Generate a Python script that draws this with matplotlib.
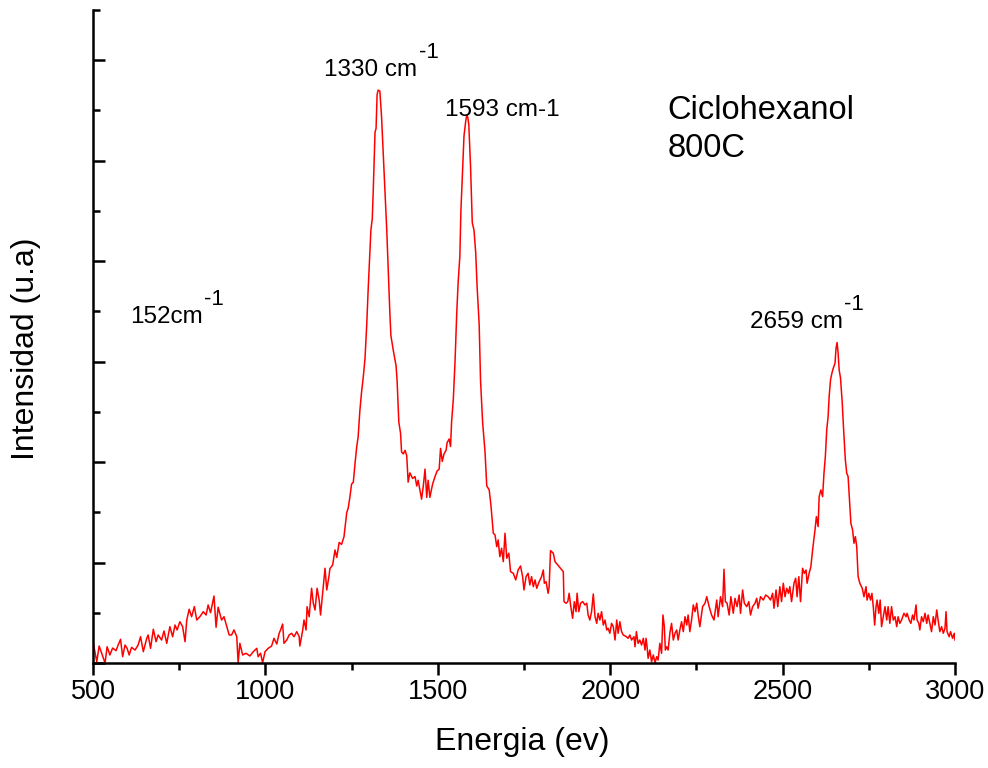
# Raman spectrum - Ciclohexanol 800C

import matplotlib
matplotlib.use('Agg')
import matplotlib.pyplot as plt
from matplotlib.ticker import MultipleLocator, NullFormatter

plt.rcParams['font.family'] = ['Liberation Sans', 'DejaVu Sans']

# wavenumber (cm-1) and intensity (u.a.)
wavenumber = [
    501, 511, 518, 525, 535, 541, 549, 557, 567, 573, 580, 586, 593, 599, 605, 612,
    622, 631, 638, 646, 656, 660, 667, 675, 683, 689, 699, 706, 714, 723, 731, 738,
    744, 752, 760, 767, 772, 779, 786, 794, 801, 810, 820, 828, 834, 841, 851, 857,
    863, 873, 880, 888, 895, 902, 909, 917, 921, 926, 934, 944, 955, 965, 975, 979,
    986, 992, 999, 1008, 1018, 1025, 1033, 1040, 1044, 1050, 1054, 1062, 1069, 1076,
    1083, 1091, 1098, 1100, 1108, 1112, 1118, 1121, 1127, 1134, 1139, 1144, 1150,
    1156, 1160, 1166, 1173, 1178, 1185,
    1187, 1195, 1202, 1207, 1214, 1221, 1228, 1236, 1240, 1245, 1250, 1255, 1260,
    1265, 1269, 1274, 1279, 1284, 1289, 1294, 1298, 1303, 1306, 1310, 1313, 1318,
    1321, 1324, 1327, 1332, 1337, 1342, 1347, 1352, 1356, 1361, 1364, 1371, 1379,
    1382, 1387, 1392, 1395, 1400, 1405, 1410, 1414, 1419, 1427, 1434, 1439, 1443,
    1448, 1453, 1458, 1463, 1468, 1472, 1477, 1485, 1492, 1498, 1504, 1508, 1513,
    1518, 1524, 1527, 1533, 1537, 1540, 1545, 1550, 1555, 1559, 1564, 1567, 1572,
    1576, 1581, 1584, 1587, 1590, 1595, 1600, 1605, 1610, 1614, 1620, 1624, 1630,
    1637, 1642, 1649, 1654,
    1661, 1666, 1671, 1675, 1680, 1685, 1690, 1695, 1700, 1706, 1711, 1719, 1726,
    1733, 1740, 1746, 1750, 1756, 1762, 1767, 1772, 1777, 1782, 1787, 1794, 1801,
    1806, 1809, 1814, 1820, 1823, 1827, 1835, 1840, 1864, 1866, 1872, 1877, 1881,
    1885, 1891, 1896, 1901, 1904, 1909, 1914, 1920, 1927, 1932, 1936, 1941, 1946,
    1951, 1956, 1961, 1965, 1970, 1975, 1980, 1985, 1990, 1994, 1999, 2004, 2009,
    2014, 2019, 2023, 2028, 2033, 2038, 2047, 2052, 2057, 2062, 2069, 2072, 2076,
    2081, 2086, 2091, 2096, 2101, 2104, 2107, 2110, 2115, 2120, 2125, 2130, 2135,
    2139, 2144, 2149, 2153, 2157, 2160, 2164, 2168, 2173, 2178, 2183, 2188, 2193,
    2197, 2202, 2207, 2212, 2217, 2222, 2226, 2231, 2236, 2241, 2246, 2251, 2255,
    2260, 2268, 2275, 2280, 2287, 2294, 2301, 2309, 2313, 2320, 2326, 2330, 2334,
    2339, 2345, 2350, 2357, 2362, 2368, 2374, 2378, 2384, 2389, 2396, 2402, 2407,
    2413, 2420, 2425, 2429, 2436, 2444, 2451, 2458, 2465, 2471, 2475, 2481, 2486,
    2492, 2497, 2502, 2507, 2512, 2517, 2521, 2526, 2533, 2538, 2542, 2547, 2552,
    2558, 2563, 2568, 2571, 2577, 2582, 2587, 2594, 2598, 2603, 2606, 2611, 2616,
    2620, 2624, 2628, 2632, 2635, 2639, 2643, 2647, 2652, 2655, 2658, 2661, 2664,
    2668, 2673, 2677, 2682, 2686, 2690, 2694, 2698, 2703, 2707, 2711, 2715, 2719,
    2724, 2731, 2736, 2742, 2745, 2750, 2755, 2759, 2763, 2767, 2771, 2774, 2779,
    2783, 2787, 2792, 2797, 2802, 2806, 2811, 2816, 2821, 2826, 2831, 2835, 2840,
    2845, 2852, 2858, 2861, 2867, 2872, 2877, 2881, 2887, 2890, 2895, 2898, 2903,
    2908, 2913, 2918, 2922, 2927, 2932, 2937, 2942, 2947, 2951, 2956, 2961, 2966,
    2971, 2974, 2977, 2983, 2987, 2993, 2998, 3000,
]
intensity = [
    196, 13, 169, 100, 0, 162, 80, 149, 123, 179, 236, 63, 179, 146, 80, 156,
    129, 179, 262, 113, 246, 279, 146, 336, 212, 279, 229, 319, 196, 362, 262, 378,
    329, 411, 362, 212, 428, 535, 461, 561, 428, 461, 511, 478, 578, 501, 667, 356,
    555, 428, 461, 362, 279, 279, 329, 262, 3, 196, 80, 97, 70, 113, 146, 63,
    97, 3, 113, 146, 169, 246, 189, 296, 329, 388, 196, 229, 279, 296,
    262, 312, 262, 169, 322, 428, 329, 561, 461, 744, 595, 528, 744,
    627, 478, 694, 943, 727, 876,
    938, 976, 1125, 1051, 1200, 1181, 1257, 1500, 1538, 1649, 1781, 1800, 1987,
    2155, 2249, 2511, 2698, 2849, 3036, 3372, 3709, 4084, 4309, 4422, 4721, 5283,
    5320, 5657, 5702, 5694, 5432, 5058, 4683, 4309, 3934, 3485, 3260, 3111, 2960,
    2811, 2398, 2287, 2100, 2081, 2117, 2062, 1800, 1893, 1837, 1856, 1762, 1819,
    1725, 1631, 1762, 1930, 1649, 1819, 1649, 1781, 1856, 1911, 1930, 2136, 2006,
    2081, 2117, 2193, 2230, 2155, 2398, 2623, 2998, 3485, 3785, 4047, 4496, 4908,
    5245, 5394, 5451, 5432, 5357, 4945, 4383, 4309, 4084, 3747, 3372, 2811, 2398,
    2100, 1762, 1725, 1575,
    1292, 1275, 1158, 1225, 1059, 1142, 1009, 1292, 1043, 1093, 909, 893, 827,
    926, 966, 860, 727, 860, 893, 777, 860, 760, 827, 744, 810, 860,
    926, 794, 810, 694, 760, 1119, 1093, 1009, 909, 611, 595, 611, 694,
    578, 445, 611, 511, 694, 511, 595, 611, 578, 595, 478, 428, 511,
    687, 461, 395, 495, 428, 511, 378, 428, 329, 346, 296, 395, 362,
    229, 428, 296, 411, 312, 279, 262, 246, 279, 229, 262, 162, 312,
    196, 229, 179, 246, 129, 246, 162, 47, 129, 13, 80, 3, 63,
    30, 196, 97, 478, 362, 129, 162, 129, 296, 395, 229, 296, 329,
    229, 329, 411, 312, 461, 378, 478, 312, 428, 578, 511, 595, 478,
    362, 561, 595, 660, 561, 478, 428, 627, 461, 660, 561, 933, 611,
    595, 478, 660, 495, 644, 561, 677, 495, 727, 595, 561, 611, 478,
    561, 595, 644, 545, 660, 627, 677, 660, 627, 694, 545, 727, 561,
    760, 611, 794, 660, 744, 694, 760, 611, 794, 844, 660, 860, 611,
    943, 893, 926, 794, 893, 959, 1125, 1325, 1457, 1358, 1656, 1723, 1656,
    1889, 2055, 2321, 2453, 2652, 2819, 2885, 2935, 2985, 3134, 3190, 3085, 2918,
    2836, 2587, 2321, 2022, 1889, 1856, 1623, 1391, 1325, 1192, 1258, 1158, 860,
    794, 744, 660, 760, 627, 694, 627, 694, 561, 378, 561, 627, 495,
    627, 362, 461, 561, 428, 561, 395, 561, 428, 461, 362, 461, 395,
    428, 495, 461, 495, 428, 395, 478, 428, 578, 428, 395, 329, 461,
    411, 495, 395, 478, 395, 312, 461, 378, 528, 428, 312, 362, 296,
    346, 511, 312, 262, 312, 246, 296, 229,
]

fig = plt.figure(figsize=(9.88, 7.68), dpi=100)
ax = fig.add_axes([0.0941, 0.1367, 0.8725, 0.8503])

ax.plot(wavenumber, intensity, color='#ff0000', lw=1.1)

ax.set_xlim(500, 3000)
ax.set_ylim(0, 6500)

### Axes style: only left and bottom spines
for side in ['top', 'right']:
    ax.spines[side].set_visible(False)
for side in ['left', 'bottom']:
    ax.spines[side].set_linewidth(1.8)

ax.xaxis.set_major_locator(MultipleLocator(500))
ax.xaxis.set_minor_locator(MultipleLocator(250))
ax.yaxis.set_major_locator(MultipleLocator(1000))
ax.yaxis.set_minor_locator(MultipleLocator(500))
ax.yaxis.set_major_formatter(NullFormatter())
ax.tick_params(axis='x', which='major', direction='out', length=8.6, width=1.8,
               labelsize=19.5, pad=3)
ax.tick_params(axis='x', which='minor', direction='out', length=4.7, width=1.8)
ax.tick_params(axis='y', which='major', direction='in', length=8.6, width=1.8)
ax.tick_params(axis='y', which='minor', direction='in', length=4.7, width=1.8)

ax.set_xlabel('Energia (ev)', fontsize=23)
ax.set_ylabel('Intensidad (u.a)', fontsize=23)
ax.xaxis.set_label_coords(0.498, -0.098)
ax.yaxis.set_label_coords(-0.060, 0.482)

### Peak labels
def peak_label(x, y, txt, sup=True):
    t = ax.text(x, y, txt, fontsize=17.5, ha='left', va='baseline')
    if sup:
        ax.annotate('-1', xy=(1, 0), xycoords=t, xytext=(1, 16.5),
                    textcoords='offset points', fontsize=16,
                    ha='left', va='baseline')

peak_label(1170, 5847, '1330 cm')
peak_label(1521, 5441, '1593 cm-1', sup=False)
peak_label(607, 3383, '152cm')
peak_label(2405, 3333, '2659 cm')

ax.text(2167, 5415, 'Ciclohexanol', fontsize=23.5, ha='left', va='baseline')
ax.text(2167, 5036, '800C', fontsize=23.5, ha='left', va='baseline')

fig.savefig('out.png', dpi=100)
